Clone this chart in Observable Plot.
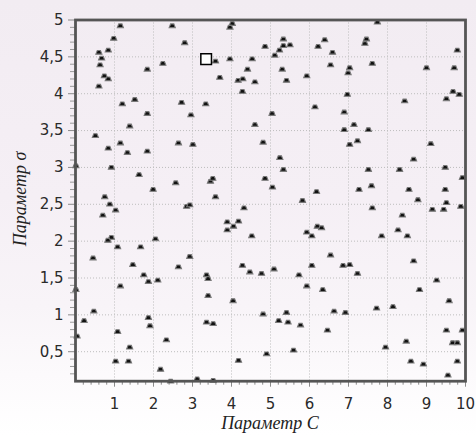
<!DOCTYPE html>
<html><head><meta charset="utf-8">
<script src="https://cdn.jsdelivr.net/npm/d3@7"></script>
<script src="https://cdn.jsdelivr.net/npm/@observablehq/plot@0.6"></script>
<style>
html,body{margin:0;padding:0;}
body{width:476px;height:436px;overflow:hidden;background:#fff;}
#chart{width:476px;height:436px;background:linear-gradient(to bottom,#f2ecf2 0%,#f5eff5 45%,#f8f4f8 70%,#fcfafc 86%,#ffffff 100%);}
</style></head><body><div id="chart"></div>
<script>
// Parameter C (x) values of the tried points
const cValues = [
1.15,2.48,0.98,2.80,0.60,0.84,0.67,0.63,2.24,1.84,0.74,0.84,0.60,1.52,1.20,2.72,3.34,1.84,2.96,1.39,0.51,1.15,2.64,3.01,0.84,1.33,1.84,0.01,0.92,1.63,2.57,1.99,0.75,
4.02,3.96,5.33,4.86,5.33,5.50,5.23,5.11,6.39,6.22,6.59,6.54,3.59,3.96,4.53,4.41,5.30,3.70,4.17,4.29,4.60,5.41,5.93,4.28,6.14,5.04,4.60,4.81,5.24,5.33,3.46,3.52,4.86,5.05,6.18,3.59,
7.74,7.46,7.42,9.79,7.03,6.99,7.61,9.00,9.71,6.97,9.68,9.84,9.51,8.44,6.89,7.14,6.89,7.51,7.03,7.23,9.11,8.67,7.51,8.31,9.48,9.92,7.27,7.59,8.55,9.48,
0.88,1.03,0.70,2.85,2.93,0.92,0.83,2.05,1.08,1.67,0.45,2.93,1.47,2.64,1.75,1.87,2.11,1.15,0.01,0.47,0.22,1.87,1.91,1.08,0.04,2.33,1.39,1.03,1.36,2.18,2.44,3.12,
5.82,4.32,3.89,4.18,4.05,3.89,4.52,5.93,6.06,6.20,6.31,6.54,4.28,4.47,4.77,5.09,3.36,3.40,5.73,6.06,5.93,6.34,3.40,4.04,4.81,5.41,5.21,5.45,5.77,6.63,6.46,3.36,3.53,4.90,5.59,4.18,3.53,
8.78,9.51,7.61,9.15,9.44,9.88,8.38,8.27,8.51,7.85,6.86,7.03,7.23,8.67,9.26,8.82,9.58,6.92,7.72,8.14,9.51,9.92,8.48,7.95,9.67,9.79,8.60,8.92,9.79,9.55
];
// Parameter sigma (y) values of the tried points
const sigmaValues = [
4.92,4.92,4.75,4.69,4.56,4.59,4.48,4.39,4.41,4.33,4.24,4.20,4.10,3.92,3.86,3.88,3.86,3.73,3.71,3.56,3.43,3.33,3.33,3.31,3.26,3.20,3.22,3.02,3.00,2.90,2.79,2.70,2.60,
4.95,4.90,4.74,4.64,4.65,4.66,4.59,4.52,4.73,4.64,4.56,4.39,4.44,4.47,4.47,4.33,4.33,4.22,4.18,4.20,4.16,4.18,4.24,4.03,3.82,3.73,3.58,3.34,3.13,2.97,2.81,2.85,2.85,2.73,2.67,2.60,
4.97,4.74,4.68,4.59,4.35,4.28,4.41,4.35,4.35,3.99,4.03,3.99,3.93,3.90,3.75,3.58,3.51,3.51,3.31,3.36,3.32,3.11,2.97,2.97,3.00,2.86,2.70,2.75,2.70,2.70,
2.50,2.42,2.35,2.47,2.49,2.05,2.01,2.03,1.92,1.92,1.77,1.79,1.68,1.65,1.54,1.45,1.47,1.39,1.34,1.05,0.92,0.96,0.85,0.77,0.71,0.66,0.56,0.37,0.37,0.26,0.10,0.13,
2.55,2.45,2.26,2.27,2.20,2.15,2.07,2.12,2.07,2.20,2.18,1.81,1.67,1.58,1.56,1.62,1.54,1.49,1.54,1.67,1.39,1.34,1.26,1.19,1.01,1.03,0.92,0.90,0.86,1.05,0.79,0.90,0.88,0.47,0.52,0.38,0.11,
2.56,2.52,2.45,2.43,2.43,2.47,2.35,2.15,2.07,2.07,1.67,1.68,1.56,1.73,1.47,1.34,1.19,1.03,1.09,1.11,0.79,0.79,0.64,0.56,0.62,0.62,0.37,0.33,0.37,0.18
];
// Selected (best) point
const bestC = [3.35];
const bestSigma = [4.47];

const xTicks = [1,2,3,4,5,6,7,8,9,10];
const xTickLabels = ["1","2","3","4","5","6","7","8","9","10"];
const yTicks = [0.5,1,1.5,2,2.5,3,3.5,4,4.5,5];
const yTickLabels = ["0,5","1","1,5","2","2,5","3","3,5","4","4,5","5"];
const xLabel = "Параметр C";
const yLabel = "Параметр σ";

const points = cValues.map((c, i) => ({c, s: sigmaValues[i]}));
const best = bestC.map((c, i) => ({c, s: bestSigma[i]}));
const xMinor = d3.range(1, 50).map(i => i / 5).filter(v => Math.abs(v - Math.round(v)) > 1e-9);
const yMinor = d3.range(2, 50).map(i => i / 10).filter(v => Math.abs(v * 2 - Math.round(v * 2)) > 1e-9);

const hat = {
  draw(ctx, size) {
    const r = Math.sqrt(size) / 2;
    ctx.moveTo(-r * 1.15, r * 0.65);
    ctx.lineTo(r * 1.15, r * 0.65);
    ctx.lineTo(r * 0.6, -r * 0.75);
    ctx.lineTo(-r * 0.6, -r * 0.75);
    ctx.closePath();
  }
};

const plot = Plot.plot({
  width: 476,
  height: 436,
  marginLeft: 75,
  marginRight: 11,
  marginTop: 19.5,
  marginBottom: 55.3,
  x: {domain: [0, 10]},
  y: {domain: [0.1, 5]},
  style: {background: "transparent", fontFamily: "DejaVu Sans", fontSize: "15px", color: "#2a2a2a", overflow: "visible"},
  marks: [
    Plot.gridX(xTicks.filter(d => d < 10), {stroke: "#bdbdbd", strokeOpacity: 1, strokeDasharray: "1,2"}),
    Plot.gridY(yTicks.filter(d => d < 5), {stroke: "#bdbdbd", strokeOpacity: 1, strokeDasharray: "1,2"}),
    Plot.axisX(xMinor, {tickSize: 4, tickFormat: () => "", stroke: "#8a8a8a", label: null}),
    Plot.axisX(xTicks, {tickSize: 6, tickPadding: 11, tickFormat: d => xTickLabels[xTicks.indexOf(d)], stroke: "#8a8a8a", label: null}),
    Plot.axisY(yMinor, {tickSize: 5, tickFormat: () => "", stroke: "#9a9a9a", label: null}),
    Plot.axisY(yTicks, {tickSize: 7, tickPadding: 5, tickFormat: d => yTickLabels[yTicks.indexOf(d)], stroke: "#8a8a8a", label: null}),
    Plot.dot(points, {x: "c", y: "s", symbol: hat, r: 3, fill: "#111", stroke: "#7a7a7a", strokeWidth: 1.1}),
    Plot.dot(best, {x: "c", y: "s", symbol: "square", r: 6, fill: "white", stroke: "black", strokeWidth: 1.5}),
    Plot.frame({stroke: "#555", strokeWidth: 2.8})
  ]
});

const svg = d3.select(plot);
svg.append("text")
  .attr("x", 270).attr("y", 429)
  .attr("text-anchor", "middle")
  .attr("font-family", "Liberation Serif").attr("font-style", "italic").attr("font-size", 18)
  .attr("fill", "#222")
  .text(xLabel);
svg.append("text")
  .attr("transform", "translate(26,199) rotate(-90)")
  .attr("text-anchor", "middle")
  .attr("font-family", "Liberation Serif").attr("font-style", "italic").attr("font-size", 18)
  .attr("fill", "#222")
  .text(yLabel);

document.getElementById("chart").appendChild(plot);
</script>
</body></html>
